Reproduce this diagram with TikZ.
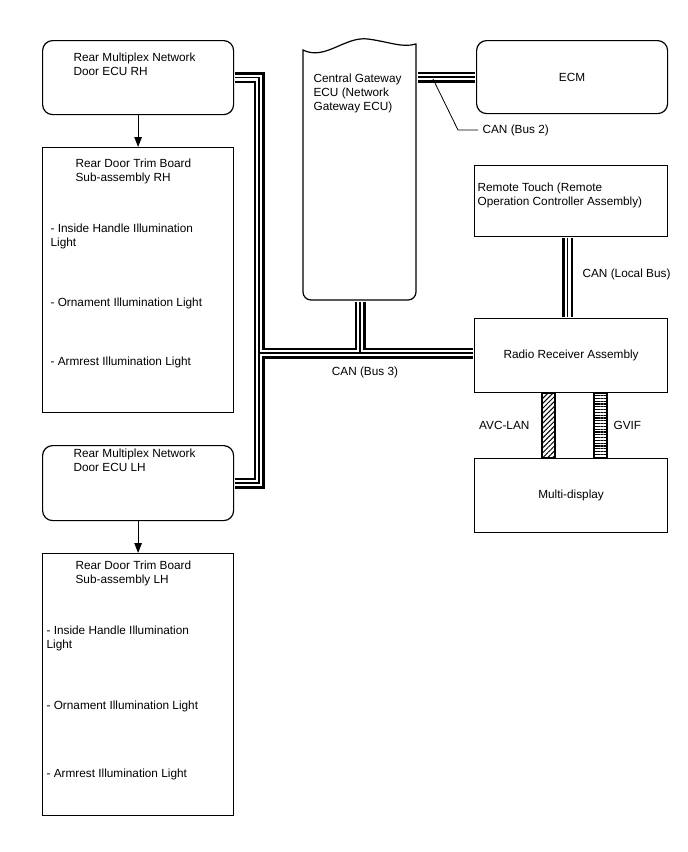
\documentclass[tikz,border=0pt]{standalone}
\usepackage{fontspec}
\setmainfont{Liberation Sans}
\usetikzlibrary{arrows.meta,patterns.meta,positioning}

\begin{document}
\begin{tikzpicture}[x=1pt, y=-1pt, line width=1.2pt,
        box/.style={draw, anchor=north west, inner sep=0pt, minimum width=191pt, font=\fontsize{11.8}{14}\selectfont},
        ecu/.style={box, rounded corners=10pt},
        txt/.style={anchor=north west, inner sep=0pt, align=left, font=\fontsize{11.8}{14}\selectfont},
        arr/.style={-{Triangle[length=10pt, width=7.5pt]}},
        leader/.style={line width=0.8pt}]
        \useasboundingbox (0,0) rectangle (688,852);

        % Nodes
        \node[ecu, minimum height=74pt] (rh) at (42,40) {};
        \node[box, minimum height=265pt] (trh) at (42,147) {};
        \node[ecu, minimum height=75pt] (lh) at (42,445) {};
        \node[box, minimum height=262pt] (tlh) at (42,553) {};
        \node[anchor=north west, minimum width=113pt, minimum height=258pt] (gw) at (303,42) {};
        \node[ecu, minimum height=73pt] (ecm) at (476,40) {ECM};
        \node[box, minimum width=193pt, minimum height=71pt] (rt) at (474,165) {};
        \node[box, minimum width=193pt, minimum height=74pt] (radio) at (474,318) {Radio Receiver Assembly};
        \node[box, minimum width=193pt, minimum height=74pt] (md) at (474,458) {Multi-display};

        % Gateway outline
        \draw (303,50) .. controls (325,61) and (345,36) .. (368,39) .. controls (390,42) and (402,48) .. (416,44) -- (416,200) [rounded corners=8pt] -- (416,300) -- (303,300) -- (303,200) [sharp corners] -- cycle;

        % Texts
        \node[txt] (rhtxt) at (73,52) {Rear Multiplex Network\\Door ECU RH};
        \node[txt] (trhtxt) at (75,158) {Rear Door Trim Board\\Sub-assembly RH};
        \node[txt] (trh1) at (50,223) {- Inside Handle Illumination\\Light};
        \node[txt] (trh2) at (50,297) {- Ornament Illumination Light};
        \node[txt] (trh3) at (50,356) {- Armrest Illumination Light};
        \node[txt] (lhtxt) at (73,448) {Rear Multiplex Network\\Door ECU LH};
        \node[txt] (tlhtxt) at (75,560) {Rear Door Trim Board\\Sub-assembly LH};
        \node[txt] (tlh1) at (46,625) {- Inside Handle Illumination\\Light};
        \node[txt] (tlh2) at (46,700) {- Ornament Illumination Light};
        \node[txt] (tlh3) at (46,768) {- Armrest Illumination Light};
        \node[txt] (gwtxt) at (313,73) {Central Gateway\\ECU (Network\\Gateway ECU)};
        \node[txt] (rttxt) at (477,182) {Remote Touch (Remote\\Operation Controller Assembly)};

        % Labels
        \node[txt, anchor=west] (bus2) at (482,130) {CAN (Bus 2)};
        \node[txt, anchor=west] (localbus) at (582,274) {CAN (Local Bus)};
        \node[txt, anchor=north] (bus3) at (365,366) {CAN (Bus 3)};
        \node[txt, anchor=east] (avc) at (530,425) {AVC-LAN};
        \node[txt, anchor=west] (gvif) at (613,425) {GVIF};

        % Buses
        \coordinate (jl) at (259,353);
        \foreach \w/\c in {11/black, 6/white, 1.3/black}{
            \draw[line width=\w pt, \c, shorten <=0.6pt, shorten >=0.6pt] (rh.east) -| (jl) |- (lh.east);
            \draw[line width=\w pt, \c, shorten <=0.6pt, shorten >=0.6pt] (jl) -- (radio.west |- jl);
            \draw[line width=\w pt, \c, shorten <=0.6pt, shorten >=0.6pt] (gw.south) -- (gw.south |- jl);
            \draw[line width=\w pt, \c, shorten <=0.6pt, shorten >=0.6pt] (gw.east |- ecm.west) -- (ecm.west);
            \draw[line width=\w pt, \c, shorten <=0.6pt, shorten >=0.6pt] ([xshift=-3.5pt]rt.south) -- ([xshift=-3.5pt]radio.north);
        }
        \draw[pattern={Lines[angle=45, distance=3.5pt, line width=1pt]}] (542,0 |- radio.south) rectangle (555,0 |- md.north);
        \draw[pattern={Lines[angle=0, distance=2.8pt, line width=1.1pt]}] (594,0 |- radio.south) rectangle (607,0 |- md.north);

        % Arrows
        \draw[arr] (rh) -- (trh);
        \draw[arr] (lh) -- (tlh);

        % Leader
        \coordinate (b2tap) at (433,79);
        \draw[leader] (b2tap) -- ([xshift=-24pt]bus2.west) -- ([xshift=-4pt]bus2.west);
    \end{tikzpicture}
\end{document}
